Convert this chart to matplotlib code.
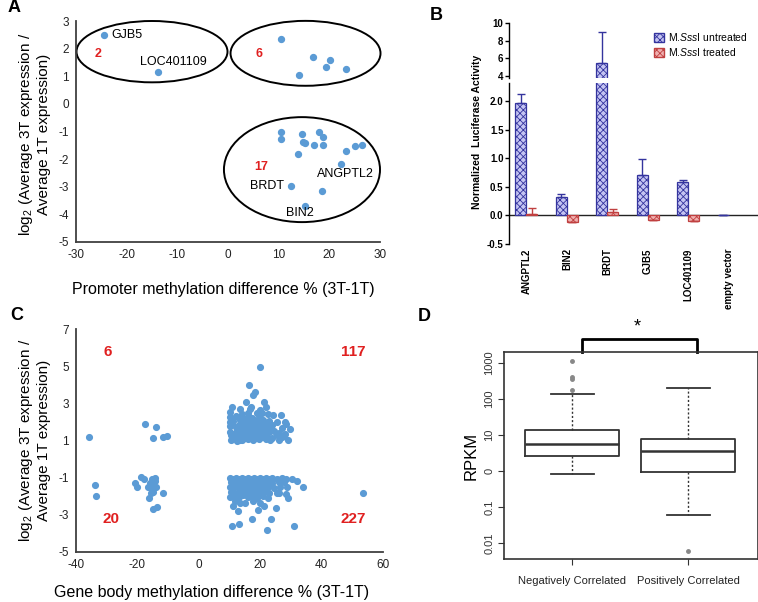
import matplotlib
matplotlib.use("Agg")
import matplotlib.pyplot as plt
from matplotlib.patches import Ellipse, Patch
import numpy as np

plt.rcParams['font.family'] = ['Liberation Sans', 'DejaVu Sans']
plt.rcParams['mathtext.fontset'] = 'custom'
plt.rcParams['mathtext.rm'] = 'Liberation Sans'
plt.rcParams['mathtext.it'] = 'Liberation Sans:italic'
plt.rcParams['hatch.linewidth'] = 0.6
plt.rcParams['axes.unicode_minus'] = False

# ---- panel A data: promoter methylation vs expression
a_up_left = [(-24.5, 2.51), (-13.8, 1.17)]
a_up_right = [(10.5, 2.35), (16.8, 1.70), (20.2, 1.58), (19.3, 1.35), (23.2, 1.28), (14.1, 1.06)]
a_down_right = [(10.5, -1.02), (10.5, -1.27), (14.7, -1.10), (14.9, -1.39), (15.1, -1.42),
                (18.0, -1.02), (18.7, -1.20), (17.0, -1.48), (18.7, -1.49), (13.75, -1.83),
                (23.2, -1.69), (25.0, -1.54), (26.5, -1.48), (22.4, -2.18), (12.4, -2.99),
                (18.55, -3.17), (15.1, -3.69)]
a_gene_names = ["GJB5", "LOC401109", "ANGPTL2", "BRDT", "BIN2"]
a_counts = ["2", "6", "17"]

# ---- panel B data: luciferase assay
b_genes = ["ANGPTL2", "BIN2", "BRDT", "GJB5", "LOC401109", "empty vector"]
b_untreated = [1.97, 0.33, 5.5, 0.70, 0.59, 0.01]
b_untreated_err = [0.15, 0.05, 3.5, 0.29, 0.03, 0.0]
b_treated = [0.03, -0.12, 0.06, -0.08, -0.09, np.nan]
b_treated_err = [0.10, 0.0, 0.05, 0.0, 0.0, 0.0]

# ---- panel C data: gene body methylation vs expression
c_up_left = [(-35.7, 1.19), (-17.4, 1.89), (-14.0, 1.75), (-14.8, 1.12), (-11.8, 1.18), (-10.4, 1.25)]
c_down_left = [(-33.8, -1.39), (-33.5, -1.96), (-20.7, -1.28), (-20.1, -1.51), (-18.9, -0.97),
               (-18.0, -1.06), (-15.3, -1.06), (-14.2, -1.01), (-15.9, -1.30), (-14.8, -1.33),
               (-16.4, -1.51), (-15.3, -1.60), (-14.0, -1.51), (-14.8, -1.78), (-16.1, -2.10),
               (-11.5, -1.80), (-15.0, -2.70), (-13.5, -2.59), (-15.6, -1.85), (-14.3, -1.20)]
c_up_right = [(19.8, 4.94), (16.2, 3.99), (18.4, 3.63), (17.8, 3.45), (15.4, 3.09), (21.1, 3.09),
              (10.8, 2.82), (10.2, 2.55), (13.5, 2.68), (16.7, 2.68), (19.9, 2.65), (21.9, 2.79),
              (10.0, 2.25), (24.3, 2.38), (26.7, 2.38), (18.9, 2.47), (10.8, 1.93), (28.1, 2.02),
              (29.8, 1.61), (29.2, 1.03), (10.2, 1.48), (11.3, 1.12), (13.5, 1.03), (17.8, 1.03),
              (23.3, 1.03), (25.4, 1.30), (21.1, 1.39), (15.7, 1.93), (20.0, 1.84), (17.3, 2.20),
              (14.5, 1.75), (12.4, 1.57), (18.9, 1.57), (23.3, 1.66), (27.1, 1.66), (13.5, 1.30),
              (16.7, 1.39), (22.2, 1.21), (27.6, 1.25),
              (12.0, 1.1), (13.0, 1.2), (14.0, 1.05), (15.0, 1.15), (16.0, 1.1), (17.0, 1.2),
              (18.5, 1.15), (19.5, 1.1), (20.5, 1.2), (22.0, 1.1), (24.0, 1.15), (26.0, 1.05),
              (11.5, 1.35), (12.5, 1.45), (13.5, 1.55), (14.5, 1.4), (15.5, 1.6), (16.5, 1.5),
              (17.5, 1.45), (18.5, 1.7), (19.5, 1.5), (20.5, 1.4), (21.5, 1.55), (23.0, 1.45),
              (24.5, 1.5), (26.0, 1.4), (28.0, 1.35), (12.0, 1.75), (13.0, 1.85), (14.0, 1.7),
              (15.0, 1.9), (16.0, 1.8), (17.0, 1.95), (18.0, 1.85), (19.0, 2.0), (20.0, 1.7),
              (21.0, 1.8), (22.0, 1.9), (24.0, 1.85), (11.0, 2.05), (13.5, 2.1), (15.0, 2.15),
              (16.5, 2.25), (17.5, 2.05), (19.5, 2.3), (21.0, 2.1), (23.0, 2.05), (25.5, 2.0),
              (14.0, 2.4), (12.0, 2.3), (16.0, 2.5), (17.0, 2.8), (20.5, 2.5), (22.5, 2.45),
              (15.5, 1.3), (18.0, 1.3), (19.0, 1.35), (21.0, 1.25), (16.0, 2.0), (14.5, 1.95),
              (17.5, 1.6), (18.0, 2.1), (12.5, 1.0), (27.0, 1.2), (28.5, 1.9),
              (10.3, 1.8), (10.4, 1.3), (10.1, 2.0), (10.5, 1.05)]
c_down_right = [(53.5, -1.84), (33.9, -1.51), (31.9, -1.16), (30.3, -1.08), (27.6, -1.21),
                (10.2, -2.02), (11.3, -2.55), (12.9, -2.82), (10.8, -3.59), (13.2, -3.48),
                (17.3, -3.22), (22.2, -3.84), (23.5, -3.20), (31.1, -3.59), (19.2, -2.73),
                (25.2, -2.62), (21.1, -2.52), (29.2, -2.10), (25.6, -1.83), (28.7, -1.48),
                (13.5, -2.37), (15.1, -2.34), (17.8, -2.28), (20.0, -2.37), (11.8, -2.28),
                (10.2, -1.0), (11.0, -1.05), (12.0, -1.0), (13.0, -1.05), (14.0, -1.0),
                (15.0, -1.05), (16.0, -1.0), (17.0, -1.05), (18.0, -1.0), (19.0, -1.05),
                (20.0, -1.0), (21.0, -1.05), (22.0, -1.0), (23.0, -1.05), (24.0, -1.0),
                (25.5, -1.05), (27.0, -1.0), (28.5, -1.05),
                (10.5, -1.25), (11.5, -1.3), (12.5, -1.2), (13.5, -1.3), (14.5, -1.25),
                (15.5, -1.3), (16.5, -1.2), (17.5, -1.3), (18.5, -1.25), (19.5, -1.3),
                (20.5, -1.2), (21.5, -1.3), (22.5, -1.25), (24.0, -1.3), (26.0, -1.25),
                (10.3, -1.5), (11.0, -1.55), (12.0, -1.45), (13.0, -1.55), (14.0, -1.5),
                (15.0, -1.45), (16.0, -1.55), (17.0, -1.5), (18.0, -1.45), (19.0, -1.55),
                (20.0, -1.5), (21.0, -1.6), (22.5, -1.5), (24.5, -1.55), (26.5, -1.5),
                (10.5, -1.75), (12.5, -1.8), (13.5, -1.7), (14.5, -1.8), (15.5, -1.75),
                (16.5, -1.7), (17.5, -1.8), (18.5, -1.75), (20.0, -1.8), (21.5, -1.7),
                (23.0, -1.85), (26.0, -1.85),
                (11.5, -2.0), (13.0, -2.05), (14.5, -1.95), (16.0, -2.05), (17.5, -2.0),
                (19.0, -2.1), (21.0, -2.0), (22.5, -2.1), (28.5, -1.9)]
c_counts = ["6", "117", "20", "227"]

# ---- panel D data: RPKM box plot summaries
d_groups = ["Negatively Correlated", "Positively Correlated"]
d_median = [5.6, 3.5]
d_q1 = [2.67, 0.92]
d_q3 = [13.5, 7.7]
d_whislo = [0.84, 0.06]
d_whishi = [138, 206]
d_fliers = [[1150, 400, 350, 178], [0.0061]]
d_yticks = [0.01, 0.1, 1, 10, 100, 1000]
d_yticklabels = ["0.01", "0.1", "0", "10", "100", "1000"]

W, H = 758, 602
fig = plt.figure(figsize=(W / 100, H / 100), dpi=100)


def px_axes(l, t, r, b):
    return fig.add_axes([l / W, 1 - b / H, (r - l) / W, (b - t) / H])


def ftext(x, y, s, **kw):
    fig.text(x / W, 1 - y / H, s, **kw)


blue = "#5b9bd5"
spine_c = "#404040"
ylab = "log$_2$ (Average 3T expression /\nAverage 1T expression)"


def excel_axes(ax):
    for s in ["top", "right"]:
        ax.spines[s].set_visible(False)
    for s in ["left", "bottom"]:
        ax.spines[s].set_color(spine_c)
        ax.spines[s].set_linewidth(1.3)
    ax.tick_params(length=0, labelsize=8.5, pad=5, colors="#222222")


# ---------------- A
axA = px_axes(76, 21, 380, 242)
excel_axes(axA)
axA.set_xlim(-30, 30)
axA.set_ylim(-5, 3)
axA.set_xticks(range(-30, 31, 10))
axA.set_yticks(range(-5, 4))
for grp in [a_up_left, a_up_right, a_down_right]:
    g = np.array(grp)
    axA.scatter(g[:, 0], g[:, 1], s=18, color=blue, zorder=3, clip_on=False)
for (cx, cy, w, h) in [(-15, 1.89, 29.8, 2.22), (15.3, 1.83, 29.6, 2.35), (14.6, -2.38, 30.8, 3.8)]:
    axA.add_patch(Ellipse((cx, cy), w, h, fill=False, lw=1.4, color="black", clip_on=False))
axA.text(-23.1, 2.5, a_gene_names[0], fontsize=9, va="center", ha="left")
axA.text(-10.8, 1.5, a_gene_names[1], fontsize=9, va="center", ha="center")
axA.text(23.2, -2.53, a_gene_names[2], fontsize=9, va="center", ha="center")
axA.text(11.05, -2.96, a_gene_names[3], fontsize=9, va="center", ha="right")
axA.text(14.2, -3.95, a_gene_names[4], fontsize=9, va="center", ha="center")
for (x, y), s in zip([(-25.6, 1.8), (6.2, 1.8), (6.6, -2.27)], a_counts):
    axA.text(x, y, s, color="#e02020", fontsize=9, fontweight="bold", ha="center", va="center")
ftext(34, 134, ylab, rotation=90, ha="center", va="center", fontsize=11, linespacing=1.1)
ftext(223, 290, "Promoter methylation difference % (3T-1T)", ha="center", va="center", fontsize=11.5)
ftext(8, 8, "A", fontsize=13, fontweight="bold", va="center", ha="left")

# ---------------- B (broken y axis)
axB = px_axes(509, 83, 758, 244)
axBu = px_axes(509, 23, 758, 78)
xb = np.arange(len(b_genes))
bw = 0.27
blue_face, blue_edge = "#c4c4f2", "#34349e"
red_face, red_edge = "#f0b0b0", "#c04040"
for ax in [axB, axBu]:
    ax.bar(xb - bw / 2, b_untreated, bw, facecolor=blue_face, edgecolor=blue_edge,
           hatch="xxxxx", lw=0.9, zorder=2)
    ax.bar(xb + bw / 2, b_treated, bw, facecolor=red_face, edgecolor=red_edge,
           hatch="xxxxx", lw=0.9, zorder=2)
    ax.errorbar(xb - bw / 2, b_untreated, yerr=[np.zeros(len(xb)), b_untreated_err],
                fmt="none", ecolor=blue_edge, elinewidth=1.0, capsize=3, zorder=3)
    ax.errorbar(xb + bw / 2, b_treated, yerr=[np.zeros(len(xb)), b_treated_err],
                fmt="none", ecolor=red_edge, elinewidth=1.0, capsize=3, zorder=3)
    ax.set_xlim(-0.43, 5.72)
    for s in ["top", "right", "bottom"]:
        ax.spines[s].set_visible(False)
    ax.spines["left"].set_linewidth(1.0)
    ax.tick_params(axis="y", length=3, width=1, labelsize=7, pad=1)
axB.set_ylim(-0.5, 2.32)
axB.set_yticks([-0.5, 0.0, 0.5, 1.0, 1.5, 2.0])
axB.set_yticklabels(["-0.5", "0.0", "0.5", "1.0", "1.5", "2.0"], fontweight="bold")
axB.axhline(0, color="#222222", lw=1.0, zorder=1)
axB.set_xticks(xb)
axB.set_xticklabels(b_genes, rotation=90, fontsize=7, fontweight="bold", va="top")
axB.tick_params(axis="x", length=0, pad=3)
axBu.set_ylim(3.77, 10)
axBu.set_yticks([4, 6, 8, 10])
axBu.set_yticklabels(["4", "6", "8", "10"], fontweight="bold")
axBu.set_xticks([])
handles = [Patch(facecolor=blue_face, edgecolor=blue_edge, hatch="xxxxx"),
           Patch(facecolor=red_face, edgecolor=red_edge, hatch="xxxxx")]
fig.legend(handles, ["M.$\\it{Sss}$I untreated", "M.$\\it{Sss}$I treated"],
           loc="upper left", bbox_to_anchor=(649 / W, 1 - 26 / H), frameon=False,
           fontsize=7.5, handlelength=0.9, handleheight=0.9, handletextpad=0.4,
           labelspacing=0.3, borderpad=0)
ftext(477, 132, "Normalized  Luciferase Activity", rotation=90, ha="center", va="center",
      fontsize=7.5, fontweight="bold")
ftext(430, 15, "B", fontsize=13, fontweight="bold", va="center", ha="left")

# ---------------- C
axC = px_axes(76, 329, 383, 552)
excel_axes(axC)
axC.set_xlim(-40, 60)
axC.set_ylim(-5, 7)
axC.set_xticks(range(-40, 61, 20))
axC.set_yticks(range(-5, 8, 2))
for grp in [c_up_left, c_down_left, c_up_right, c_down_right]:
    g = np.array(grp)
    axC.scatter(g[:, 0], g[:, 1], s=17, color=blue, zorder=3, clip_on=False)
for (x, y), s in zip([(-29.7, 5.75), (50.2, 5.75), (-28.6, -3.21), (50.2, -3.21)], c_counts):
    axC.text(x, y, s, color="#e02020", fontsize=11, fontweight="bold", ha="center", va="center")
ftext(34, 440, ylab, rotation=90, ha="center", va="center", fontsize=11, linespacing=1.1)
ftext(212, 593, "Gene body methylation difference % (3T-1T)", ha="center", va="center", fontsize=11.5)
ftext(10, 315, "C", fontsize=13, fontweight="bold", va="center", ha="left")

# ---------------- D
axD = px_axes(504, 352, 758, 559)
stats = []
for i in range(len(d_groups)):
    stats.append(dict(med=d_median[i], q1=d_q1[i], q3=d_q3[i], whislo=d_whislo[i],
                      whishi=d_whishi[i], fliers=d_fliers[i], label=d_groups[i]))
axD.bxp(stats, positions=[1, 2], widths=0.81,
        boxprops=dict(color="#333333", lw=1.3),
        medianprops=dict(color="#333333", lw=1.8),
        whiskerprops=dict(color="#333333", lw=1.0, linestyle=(0, (1.5, 1.5))),
        capprops=dict(color="#333333", lw=1.3),
        capwidths=0.37,
        flierprops=dict(marker="o", markersize=2.5, markerfacecolor="#888888",
                        markeredgecolor="#888888"))
axD.set_yscale("log")
axD.set_ylim(0.0036, 2020)
axD.set_xlim(0.414, 2.6)
axD.set_yticks(d_yticks)
axD.set_yticklabels(d_yticklabels, rotation=90, va="center", fontsize=8, color="#333333")
axD.minorticks_off()
axD.set_xticklabels(d_groups, fontsize=8, color="#222222")
axD.tick_params(length=4, color="#333333", labelsize=8, pad=3)
axD.tick_params(axis="x", pad=8)
for s in axD.spines.values():
    s.set_color("#333333")
    s.set_linewidth(1.2)
axD.set_ylabel("RPKM", fontsize=12, labelpad=4)
trans = axD.get_xaxis_transform()
axD.plot([1.086, 1.086, 2.078, 2.078], [1.0, 1.063, 1.063, 1.0], color="black", lw=2,
         transform=trans, clip_on=False)
axD.text(1.56, 1.12, "*", transform=trans, ha="center", va="center", fontsize=13)
ftext(418, 317, "D", fontsize=13, fontweight="bold", va="center", ha="left")

fig.savefig("out.png", dpi=100)
